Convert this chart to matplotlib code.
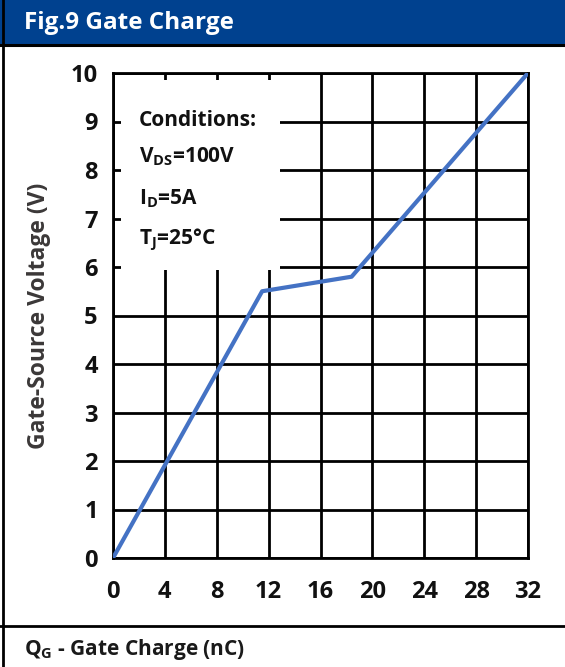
import matplotlib
matplotlib.use("Agg")
import matplotlib.pyplot as plt
from matplotlib.patches import Rectangle
from matplotlib.lines import Line2D

plt.rcParams["font.family"] = ["Open Sans", "DejaVu Sans"]
plt.rcParams["font.weight"] = "bold"
plt.rcParams["mathtext.fontset"] = "custom"
plt.rcParams["mathtext.rm"] = "Open Sans:bold"
plt.rcParams["mathtext.bf"] = "Open Sans:bold"

# data
qg = [0, 11.5, 18.4, 32]
vgs = [0, 5.5, 5.8, 10]
x_ticks = [0, 4, 8, 12, 16, 20, 24, 28, 32]
y_ticks = [0, 1, 2, 3, 4, 5, 6, 7, 8, 9, 10]
conditions = ["Conditions:", r"V$_{\mathbf{DS}}$=100V", r"I$_{\mathbf{D}}$=5A", r"T$_{\mathbf{J}}$=25°C"]

fig = plt.figure(figsize=(5.65, 6.67), dpi=100)

# header bar and frame lines
fig.patches.append(Rectangle((0, 1 - 44 / 667), 1, 44 / 667, transform=fig.transFigure,
                             facecolor="#00418F", edgecolor="none", zorder=0))
fig.text(24 / 565, 1 - 23 / 667, "Fig.9 Gate Charge", color="white", fontsize=17.5,
         fontweight="bold", va="center", ha="left")
fig.lines.append(Line2D([0, 1], [1 - 45 / 667, 1 - 45 / 667], transform=fig.transFigure,
                        color="black", lw=2.2))
fig.lines.append(Line2D([3 / 565, 3 / 565], [0, 1], transform=fig.transFigure,
                        color="black", lw=2))
fig.lines.append(Line2D([0, 1], [1 - 626 / 667, 1 - 626 / 667], transform=fig.transFigure,
                        color="black", lw=2))

ax = fig.add_axes([113 / 565, 1 - 558 / 667, 415 / 565, 485 / 667])
ax.set_xlim(0, 32)
ax.set_ylim(0, 10)
ax.set_xticks(x_ticks)
ax.set_yticks(y_ticks)
ax.grid(True, color="black", lw=2)
ax.set_axisbelow(True)
for s in ax.spines.values():
    s.set_linewidth(2)
    s.set_zorder(0.5)
ax.tick_params(length=0, labelsize=17, labelcolor="#111111")
ax.tick_params(axis="x", pad=16)
ax.tick_params(axis="y", pad=11)
for lab in ax.get_xticklabels() + ax.get_yticklabels():
    lab.set_fontweight("bold")

# white box behind the conditions text
ax.add_patch(Rectangle((0.6, 5.93), 12.28, 3.93, facecolor="white", edgecolor="none", zorder=1))
ys = [9.03, 8.27, 7.40, 6.56]
for t, yy in zip(conditions, ys):
    ax.text(2.0, yy, t, fontsize=15, fontweight="bold", color="#111111",
            va="center", ha="left", zorder=2)

ax.plot(qg, vgs, color="#4472C4", lw=3, zorder=3, solid_capstyle="round")

ax.set_ylabel("Gate-Source Voltage (V)", fontsize=16.5, fontweight="bold", color="#3b3838",
              labelpad=14)
fig.text(24 / 565, 1 - 650 / 667, r"Q$_{\mathbf{G}}$ - Gate Charge (nC)", fontsize=15,
         fontweight="bold", color="#1a1a1a", va="center", ha="left")

fig.savefig("out.png", dpi=100)
